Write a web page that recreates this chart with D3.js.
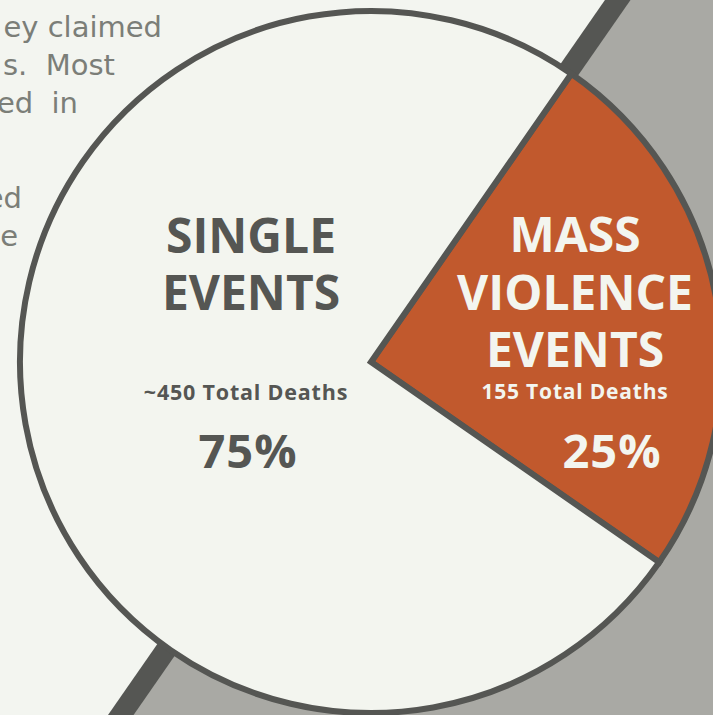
<!DOCTYPE html>
<html><head><meta charset="utf-8">
<script src="https://cdn.jsdelivr.net/npm/d3@7"></script>
<style>html,body{margin:0;padding:0;background:#f3f5f0;overflow:hidden}</style>
</head><body><svg id="c" width="713" height="715"></svg>
<script>
// ---- data ----
const categories = ["Mass Violence Events", "Single Events"];
const shares = [25, 75];
const titleLines = [["MASS", "VIOLENCE", "EVENTS"], ["SINGLE", "EVENTS"]];
const deathLabels = ["155 Total Deaths", "~450 Total Deaths"];
const pctLabels = ["25%", "75%"];
const introLines = ["ey claimed", "s.  Most", "ed  in", "ed", "e"];

// ---- layout ----
const W = 713, H = 715;
const cx = 371, cy = 362, R = 351;
const startDeg = 34.8;
const a0 = startDeg * Math.PI / 180;
const colors = { bg: "#f3f5f0", grey: "#a9a9a4", dark: "#555653", orange: "#c1592d", light: "#f3f5ef", para: "#7b7e78" };
const introLayout = [{x:162,y:37},{x:115,y:75},{x:78,y:113},{x:22,y:208},{x:18,y:246}];
const labelLayout = [
  { x: 575, titleY: [252, 310, 367], deathX: 575, deathY: 399, deathSize: 21, pctX: 612, pctY: 468, fill: colors.light },
  { x: 251, titleY: [253, 310], deathX: 246, deathY: 400, deathSize: 21.5, pctX: 248, pctY: 468, fill: colors.dark }
];

const svg = d3.select("#c");
svg.append("rect").attr("width", W).attr("height", H).attr("fill", colors.bg);

// background half-plane and band aligned with slice boundary
const u = [Math.sin(a0), -Math.cos(a0)];
const n = [Math.cos(a0), Math.sin(a0)];
const bandOff = -4;
const P = [cx + n[0]*bandOff, cy + n[1]*bandOff];
const L = 2000;
const poly = [
  [P[0]-L*u[0], P[1]-L*u[1]],
  [P[0]+L*u[0], P[1]+L*u[1]],
  [P[0]+L*u[0]+L*n[0], P[1]+L*u[1]+L*n[1]],
  [P[0]-L*u[0]+L*n[0], P[1]-L*u[1]+L*n[1]]
];
svg.append("path").attr("d", d3.line()(poly) + "Z").attr("fill", colors.grey);
svg.append("line")
  .attr("x1", poly[0][0]).attr("y1", poly[0][1])
  .attr("x2", poly[1][0]).attr("y2", poly[1][1])
  .attr("stroke", colors.dark).attr("stroke-width", 21);

// intro paragraph fragments (partly hidden behind the pie)
svg.append("g").selectAll("text").data(introLines).join("text")
  .attr("x", (d, i) => introLayout[i].x)
  .attr("y", (d, i) => introLayout[i].y)
  .attr("text-anchor", "end")
  .attr("fill", colors.para)
  .style("font-family", "'DejaVu Sans', sans-serif")
  .style("font-size", "29px")
  .style("white-space", "pre")
  .text(d => d);

// pie
const pie = d3.pie().sort(null).startAngle(a0).endAngle(a0 + 2 * Math.PI);
const arc = d3.arc().innerRadius(0).outerRadius(R);
const fillScale = d3.scaleOrdinal().domain(categories).range([colors.orange, colors.light]);
const arcs = pie(shares);
const g = svg.append("g").attr("transform", `translate(${cx},${cy})`);
g.selectAll("path").data(arcs).join("path")
  .attr("d", arc)
  .attr("fill", (d, i) => fillScale(categories[i]))
  .attr("stroke", colors.dark)
  .attr("stroke-width", 6)
  .attr("stroke-linejoin", "miter");

// labels
const font = "'Open Sans', sans-serif";
categories.forEach((c, i) => {
  const lay = labelLayout[i];
  const lg = svg.append("g").attr("fill", lay.fill).style("font-family", font).style("font-weight", 700).attr("text-anchor", "middle");
  titleLines[i].forEach((t, j) => {
    lg.append("text").attr("x", lay.x).attr("y", lay.titleY[j]).style("font-size", "48px").text(t);
  });
  lg.append("text").attr("x", lay.deathX).attr("y", lay.deathY).style("font-size", lay.deathSize + "px").style("letter-spacing", "0.8px").text(deathLabels[i]);
  lg.append("text").attr("x", lay.pctX).attr("y", lay.pctY).style("font-size", "47px").style("letter-spacing", "1px").text(pctLabels[i]);
});
</script>
</body></html>
